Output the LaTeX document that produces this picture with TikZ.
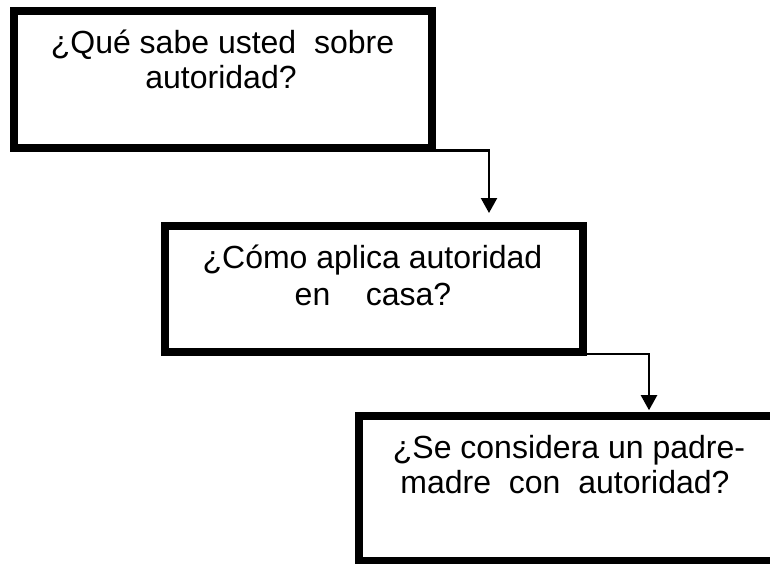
\documentclass[tikz,border=0pt]{standalone}
\usepackage{fontspec}
\setmainfont{Liberation Sans}
\usetikzlibrary{arrows.meta}
\tikzset{
  qbox/.style={draw=black, line width=8pt, inner sep=0pt, fill=white},
  qtext/.style={anchor=base, inner sep=0pt, font=\fontsize{32pt}{36pt}\selectfont},
  conn/.style={draw=black, line width=2.2pt, -{Triangle[width=16pt,length=15pt]}}
}
\begin{document}
\begin{tikzpicture}[x=1pt, y=-1pt]
\clip (0,0) rectangle (770,563);
\fill[white] (0,0) rectangle (770,563);
% boxes
\node[qbox, minimum width=417.5pt, minimum height=137.5pt] (b1) at (222.75,79.25) {};
\node[qbox, minimum width=418pt, minimum height=126pt] (b2) at (374,289) {};
\node[qbox, minimum width=418pt, minimum height=145pt] (b3) at (568,488) {};
% texts
\node[qtext] (t1a) at (222.5,53.5) {¿Qué sabe usted\ \ sobre};
\node[qtext] (t1b) at (221,88.5) {autoridad?};
\node[qtext] (t2a) at (372.5,268.3) {¿Cómo aplica autoridad};
\node[qtext] (t2b) at (373,305) {en\ \ \ \ casa?};
\node[qtext] (t3a) at (569,458.3) {¿Se considera un padre-};
\node[qtext] (t3b) at (565,493.3) {madre\ \ con\ \ autoridad?};
% connectors
\draw[conn] ([yshift=1.5pt]b1.south east) -| ([xshift=115pt,yshift=9pt]b2.north);
\draw[conn] ([yshift=1.7pt]b2.south east) -| ([xshift=81pt,yshift=1.3pt]b3.north);
\end{tikzpicture}
\end{document}
